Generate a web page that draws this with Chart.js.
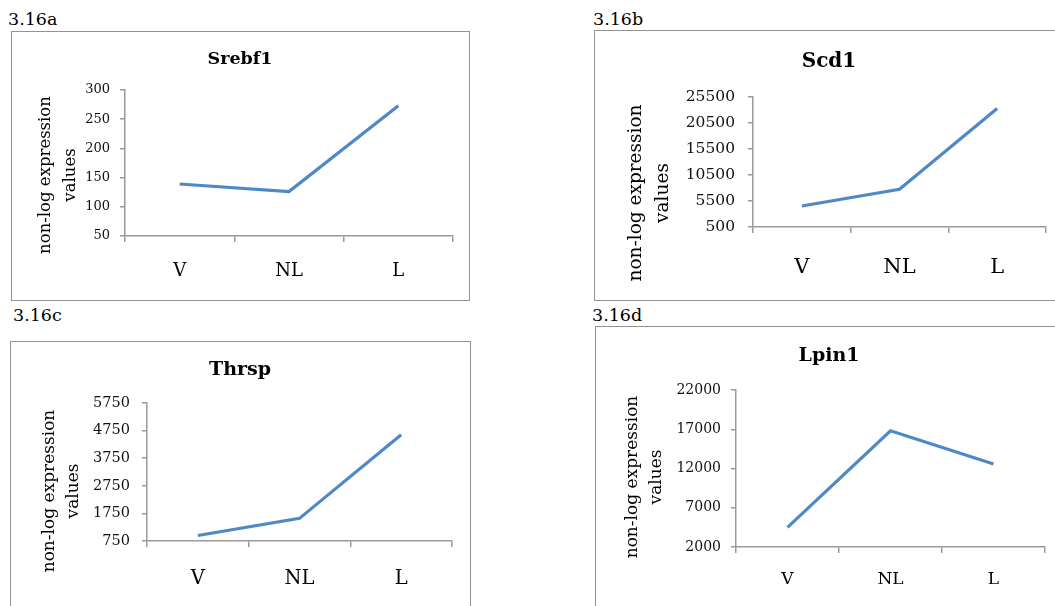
<!DOCTYPE html>
<html>
<head>
<meta charset="utf-8">
<script src="https://cdn.jsdelivr.net/npm/chart.js@4"></script>
<style>
  html, body { margin: 0; padding: 0; background: #fff; overflow: hidden; }
  body { width: 1055px; height: 606px; position: relative; font-family: "DejaVu Serif", serif; }
  .lbl { position: absolute; font-size: 17.5px; line-height: 17px; color: #000; }
  .box { position: absolute; border: 1.5px solid #939393; box-sizing: border-box; pointer-events: none; }
  canvas { position: absolute; }
</style>
</head>
<body>
<div class="lbl" style="left:8px; top:11px;">3.16a</div>
<div class="lbl" style="left:593px; top:11px;">3.16b</div>
<div class="lbl" style="left:13px; top:307px;">3.16c</div>
<div class="lbl" style="left:592px; top:307px;">3.16d</div>

<canvas id="chartA" width="458" height="269" style="left:11px; top:31px;"></canvas>
<canvas id="chartB" width="470" height="270" style="left:594px; top:30px;"></canvas>
<canvas id="chartC" width="460" height="270" style="left:10px; top:341px;"></canvas>
<canvas id="chartD" width="468" height="285" style="left:595px; top:326px;"></canvas>

<div class="box" style="left:11px; top:31px; width:459px; height:270px;"></div>
<div class="box" style="left:594px; top:30px; width:480px; height:271px;"></div>
<div class="box" style="left:10px; top:341px; width:461px; height:280px;"></div>
<div class="box" style="left:595px; top:326px; width:480px; height:290px;"></div>

<script>
// Gene expression (non-log) per group, read from the figure 3.16 a-d
const groups = ['V', 'NL', 'L'];

const srebf1 = [139, 126, 273];
const scd1 = [4540, 7750, 23300];
const thrsp = [950, 1570, 4600];
const lpin1 = [4510, 16800, 12570];

const srebf1Ticks = [50, 100, 150, 200, 250, 300];
const scd1Ticks = [500, 5500, 10500, 15500, 20500, 25500];
const thrspTicks = [750, 1750, 2750, 3750, 4750, 5750];
const lpin1Ticks = [2000, 7000, 12000, 17000, 22000];

const yTitleLines = ['non-log expression', 'values'];

Chart.defaults.font.family = '"DejaVu Serif", serif';
Chart.defaults.color = '#000';

const axisGrey = '#9a9a9a';
const lineBlue = '#4f88c7';

// rotated two-line y axis title, placed like the Excel original
const sideTitle = {
  id: 'sideTitle',
  afterDraw(chart, args, opts) {
    if (!opts.lines) return;
    const ctx = chart.ctx;
    ctx.save();
    ctx.font = opts.size + 'px "DejaVu Serif", serif';
    ctx.fillStyle = '#000';
    ctx.textAlign = 'center';
    ctx.textBaseline = 'middle';
    opts.lines.forEach((t, i) => {
      ctx.save();
      ctx.translate(opts.x[i], opts.y);
      ctx.rotate(-Math.PI / 2);
      ctx.fillText(t, 0, 0);
      ctx.restore();
    });
    ctx.restore();
  }
};

function makeChart(id, name, values, ticks, g) {
  const ctx = document.getElementById(id).getContext('2d');
  // same padding both sides so the title stays centred on the box
  const pad = g.padRight;
  return new Chart(ctx, {
    type: 'line',
    data: {
      labels: groups,
      datasets: [{
        label: name,
        data: values,
        borderColor: lineBlue,
        borderWidth: 3.2,
        pointRadius: 0,
        tension: 0,
        fill: false
      }]
    },
    plugins: [sideTitle],
    options: {
      responsive: false,
      animation: false,
      layout: { padding: { left: pad, right: pad, top: 0, bottom: 0 } },
      scales: {
        x: {
          offset: true,
          grid: { offset: true, drawOnChartArea: false, color: axisGrey, tickLength: 6, lineWidth: 1.5 },
          border: { color: axisGrey, width: 1.5 },
          ticks: { font: { size: g.catSize }, padding: g.catPad, color: '#000' },
          afterFit: s => { s.height = g.xHeight; }
        },
        y: {
          min: ticks[0],
          max: ticks[ticks.length - 1],
          afterBuildTicks: s => { s.ticks = ticks.map(v => ({ value: v })); },
          grid: { drawOnChartArea: false, color: axisGrey, tickLength: 5, lineWidth: 1.5 },
          border: { color: axisGrey, width: 1.5 },
          ticks: {
            font: { size: g.tickSize },
            padding: g.tickPad,
            color: '#111',
            callback: v => String(v)
          },
          afterFit: s => { s.width = g.yWidth - pad; }
        }
      },
      plugins: {
        legend: { display: false },
        tooltip: { enabled: false },
        title: {
          display: true,
          text: name,
          color: '#000',
          font: { size: g.titleSize, weight: 'bold' },
          padding: { top: g.titleTop, bottom: g.titleBottom }
        },
        sideTitle: { lines: yTitleLines, size: g.ySize, x: g.yTitleX, y: g.yTitleY }
      }
    }
  });
}

makeChart('chartA', 'Srebf1', srebf1, srebf1Ticks, {
  padRight: 16, xHeight: 64, yWidth: 114, catSize: 18, catPad: 19, tickSize: 13, tickPad: 10,
  titleSize: 17.5, titleTop: 17.5, titleBottom: 20.5, ySize: 16.5, yTitleX: [35, 60], yTitleY: 144
});
makeChart('chartB', 'Scd1', scd1, scd1Ticks, {
  padRight: 18, xHeight: 73, yWidth: 159, catSize: 21, catPad: 22, tickSize: 15.5, tickPad: 13,
  titleSize: 20, titleTop: 20, titleBottom: 23, ySize: 18.5, yTitleX: [42, 69], yTitleY: 163
});
makeChart('chartC', 'Thrsp', thrsp, thrspTicks, {
  padRight: 18, xHeight: 70, yWidth: 137, catSize: 19.5, catPad: 20, tickSize: 14.5, tickPad: 12,
  titleSize: 19, titleTop: 17.6, titleBottom: 21.6, ySize: 17, yTitleX: [40, 64], yTitleY: 150
});
makeChart('chartD', 'Lpin1', lpin1, lpin1Ticks, {
  padRight: 18, xHeight: 64, yWidth: 141, catSize: 17, catPad: 16, tickSize: 14, tickPad: 10,
  titleSize: 19, titleTop: 18.6, titleBottom: 22.6, ySize: 17, yTitleX: [38, 61.5], yTitleY: 151
});
</script>
</body>
</html>
